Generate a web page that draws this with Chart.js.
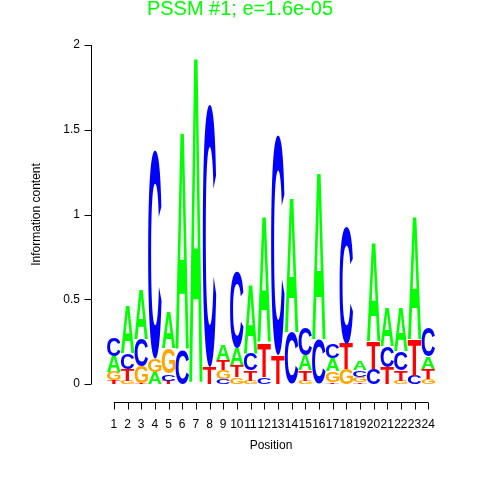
<!DOCTYPE html>
<html>
<head>
<meta charset="utf-8">
<script src="https://cdn.jsdelivr.net/npm/chart.js@4"></script>
<style>
  body { margin: 0; background: #fff; }
  #wrap { width: 480px; height: 480px; }
</style>
</head>
<body>
<div id="wrap"><canvas id="logo" width="480" height="480"></canvas></div>
<script>
// information content of each base at each position (bits)
const positions = ['1','2','3','4','5','6','7','8','9','10','11','12','13','14','15','16','17','18','19','20','21','22','23','24'];
const A = [0.095, 0.28, 0.29, 0.07, 0.21, 1.28, 1.92, 0.00, 0.09, 0.10, 0.40, 0.74, 0.00, 0.79, 0.09, 0.98, 0.075, 0.00, 0.05, 0.58, 0.23, 0.26, 0.72, 0.07];
const C = [0.105, 0.09, 0.16, 1.23, 0.04, 0.20, 0.00, 1.55, 0.03, 0.45, 0.10, 0.04, 1.30, 0.30, 0.16, 0.26, 0.085, 0.69, 0.04, 0.09, 0.12, 0.11, 0.05, 0.17];
const G = [0.05, 0.02, 0.10, 0.08, 0.15, 0.00, 0.00, 0.00, 0.05, 0.04, 0.02, 0.00, 0.00, 0.00, 0.02, 0.00, 0.065, 0.09, 0.03, 0.00, 0.00, 0.02, 0.00, 0.03];
const T = [0.02, 0.07, 0.005, 0.00, 0.02, 0.00, 0.00, 0.10, 0.06, 0.07, 0.06, 0.20, 0.17, 0.00, 0.06, 0.00, 0.01, 0.15, 0.01, 0.16, 0.10, 0.06, 0.21, 0.06];
const yTicks = [0, 0.5, 1, 1.5, 2];

const baseColors = { A: '#00ff00', C: '#0000ff', G: '#ffa500', T: '#ff0000' };
const FONT = '"Liberation Sans", Arial, Helvetica, sans-serif';

// stack letters smallest at the bottom: one dataset per rank
const layers = [[], [], [], []];
positions.forEach((p, i) => {
  const col = [['A', A[i]], ['C', C[i]], ['G', G[i]], ['T', T[i]]];
  col.sort((a, b) => a[1] - b[1]);
  col.forEach((e, k) => layers[k].push(e));
});
const datasets = layers.map((l, k) => ({
  label: 'rank ' + (k + 1),
  data: l.map(e => e[1]),
  letters: l.map(e => e[0]),
  backgroundColor: 'rgba(0,0,0,0)',
  borderWidth: 0,
  barPercentage: 1,
  categoryPercentage: 1
}));

// stretch each letter glyph into its bar rectangle
const glyphCache = {};
function glyphBox(ctx, ch) {
  if (!glyphCache[ch]) {
    ctx.font = 'bold 200px ' + FONT;
    const m = ctx.measureText(ch);
    glyphCache[ch] = {
      left: m.actualBoundingBoxLeft,
      w: m.actualBoundingBoxLeft + m.actualBoundingBoxRight,
      asc: m.actualBoundingBoxAscent,
      h: m.actualBoundingBoxAscent + m.actualBoundingBoxDescent
    };
  }
  return glyphCache[ch];
}

const letterPlugin = {
  id: 'letters',
  afterDatasetsDraw(chart) {
    const ctx = chart.ctx;
    chart.data.datasets.forEach((ds, di) => {
      const meta = chart.getDatasetMeta(di);
      meta.data.forEach((bar, i) => {
        const p = bar.getProps(['x', 'y', 'base', 'width'], true);
        const h = p.base - p.y;
        if (h < 0.4) return;
        const ch = ds.letters[i];
        const g = glyphBox(ctx, ch);
        const w = p.width * 0.98;
        ctx.save();
        ctx.translate(p.x - w / 2, p.y);
        ctx.scale(w / g.w, h / g.h);
        ctx.font = 'bold 200px ' + FONT;
        ctx.textBaseline = 'alphabetic';
        ctx.textAlign = 'left';
        ctx.fillStyle = baseColors[ch];
        ctx.fillText(ch, g.left, g.asc);
        ctx.restore();
      });
    });
  }
};

// R style axes, title and labels
const axesPlugin = {
  id: 'rAxes',
  afterDraw(chart) {
    const ctx = chart.ctx;
    const xs = chart.scales.x, ys = chart.scales.y;
    ctx.save();
    ctx.strokeStyle = '#000';
    ctx.lineWidth = 1;
    ctx.fillStyle = '#000';
    ctx.font = '12px ' + FONT;

    // y axis
    const ax = 91.5;
    ctx.beginPath();
    ctx.moveTo(ax, ys.getPixelForValue(yTicks[0]));
    ctx.lineTo(ax, ys.getPixelForValue(yTicks[yTicks.length - 1]));
    yTicks.forEach(v => {
      const y = Math.round(ys.getPixelForValue(v)) + 0.5;
      ctx.moveTo(ax, y);
      ctx.lineTo(ax - 7, y);
    });
    ctx.stroke();
    ctx.textAlign = 'right';
    ctx.textBaseline = 'middle';
    yTicks.forEach(v => ctx.fillText(String(v), 80, ys.getPixelForValue(v)));

    // x axis
    const ay = 402.5;
    const x0 = xs.getPixelForValue(0), x1 = xs.getPixelForValue(positions.length - 1);
    ctx.beginPath();
    ctx.moveTo(x0, ay);
    ctx.lineTo(x1, ay);
    positions.forEach((p, i) => {
      const x = Math.round(xs.getPixelForValue(i)) + 0.5;
      ctx.moveTo(x, ay);
      ctx.lineTo(x, ay + 7);
    });
    ctx.stroke();
    ctx.textAlign = 'center';
    ctx.textBaseline = 'middle';
    positions.forEach((p, i) => ctx.fillText(p, xs.getPixelForValue(i), 425));

    ctx.fillText('Position', (x0 + x1) / 2, 446);

    ctx.save();
    ctx.translate(37, (ys.top + ys.bottom) / 2);
    ctx.rotate(-Math.PI / 2);
    ctx.fillText('Information content', 0, 0);
    ctx.restore();

    // title
    ctx.fillStyle = '#00ff00';
    ctx.font = '20px ' + FONT;
    ctx.fillText('PSSM #1; e=1.6e-05', 240, 9);
    ctx.restore();
  }
};

new Chart(document.getElementById('logo'), {
  type: 'bar',
  data: { labels: positions, datasets: datasets },
  options: {
    responsive: false,
    animation: false,
    events: [],
    layout: { padding: { left: 107, right: 45, top: 45, bottom: 96 } },
    plugins: { legend: { display: false }, tooltip: { enabled: false }, title: { display: false } },
    scales: {
      x: { stacked: true, display: false },
      y: { stacked: true, display: false, min: 0, max: 2 }
    }
  },
  plugins: [letterPlugin, axesPlugin]
});
</script>
</body>
</html>
